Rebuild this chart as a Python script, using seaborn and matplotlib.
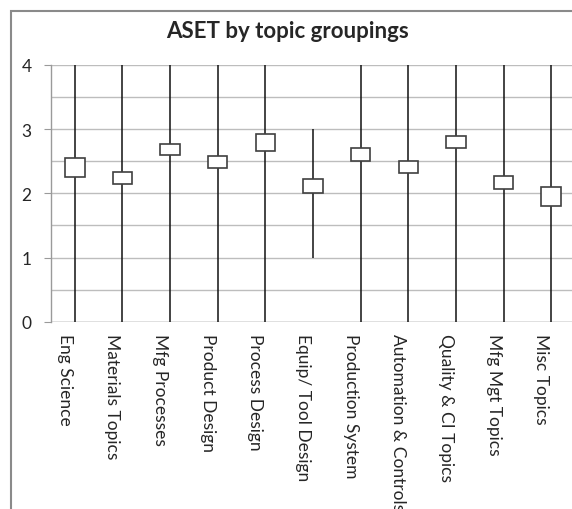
import matplotlib
matplotlib.use("Agg")
import matplotlib.pyplot as plt
from matplotlib.patches import Rectangle
from matplotlib.transforms import ScaledTranslation
from matplotlib.ticker import MultipleLocator
import numpy as np
import pandas as pd
import seaborn as sns

# data (high-low lines with open/close boxes)
topics = ["Eng Science", "Materials Topics", "Mfg Processes", "Product Design",
          "Process Design", "Equip/ Tool Design", "Production System",
          "Automation & Controls", "Quality & CI Topics", "Mfg Mgt Topics",
          "Misc Topics"]
low = [0, 0, 0, 0, 0, 1, 0, 0, 0, 0, 0]
high = [4, 4, 4, 4, 4, 3, 4, 4, 4, 4, 4]
box_low = [2.26, 2.14, 2.60, 2.40, 2.66, 2.00, 2.51, 2.31, 2.71, 2.06, 1.80]
box_high = [2.55, 2.33, 2.77, 2.58, 2.92, 2.22, 2.71, 2.51, 2.89, 2.27, 2.10]


def main():
    sns.set_style("white")
    plt.rcParams["font.family"] = ["Lato", "DejaVu Sans"]

    df = pd.DataFrame({"topic": topics, "low": low, "high": high,
                       "box_low": box_low, "box_high": box_high})
    df["box_h"] = df["box_high"] - df["box_low"]

    W, H = 572, 510
    fig = plt.figure(figsize=(W / 100, H / 100), dpi=100)
    ax = fig.add_axes([51 / W, 187.3 / H, 524 / W, 256.7 / H])

    sns.barplot(data=df, x="topic", y="box_h", order=topics, bottom=df["box_low"].to_numpy(),
                color="white", edgecolor="#404040", linewidth=1.2, width=0.41,
                saturation=1, ax=ax, zorder=3)

    pos = np.arange(len(topics))
    ax.vlines(pos, df["low"], df["high"], color="#111111", linewidth=1.1, zorder=2)

    ax.set_xlim(-0.5, len(topics) - 0.5)
    ax.set_ylim(0, 4)
    ax.yaxis.set_major_locator(MultipleLocator(1))
    ax.yaxis.set_minor_locator(MultipleLocator(0.5))
    ax.grid(axis="y", which="both", color="#bdbdbd", linewidth=1.0, zorder=0)
    ax.set_axisbelow(True)
    ax.set_xlabel("")
    ax.set_ylabel("")

    for s in ["top", "right", "bottom"]:
        ax.spines[s].set_visible(False)
    ax.spines["left"].set_color("#9a9a9a")
    ax.spines["left"].set_linewidth(1.0)
    ax.axhline(0, color="#9a9a9a", linewidth=1.0, zorder=1)

    ax.set_xticks(pos)
    ax.set_xticklabels(topics, rotation=270, ha="center", va="top", fontsize=12.5)
    ax.set_xticks(np.arange(-0.5, len(topics), 1), minor=True)
    ax.tick_params(axis="x", which="major", length=0, pad=8)
    ax.tick_params(axis="x", which="minor", length=5, color="#9a9a9a", direction="out")
    ax.tick_params(axis="y", which="major", length=5, color="#9a9a9a", direction="out",
                   labelsize=12.5, pad=9, left=True)
    ax.tick_params(axis="y", which="minor", length=0)
    shift = ScaledTranslation(-10 / 100, 0, fig.dpi_scale_trans)
    for lab in ax.get_xticklabels():
        lab.set_transform(lab.get_transform() + shift)

    fig.text(288 / W, 1 - 32 / H, "ASET by topic groupings", ha="center", va="center",
             fontsize=16, fontweight="bold")

    fig.patches.append(Rectangle((11 / W, -0.1), 1.2, 1.1 - 12 / H, transform=fig.transFigure,
                                 fill=False, edgecolor="#8a8a8a", linewidth=1.5))

    fig.savefig("out.png", dpi=100)


if __name__ == "__main__":
    main()
